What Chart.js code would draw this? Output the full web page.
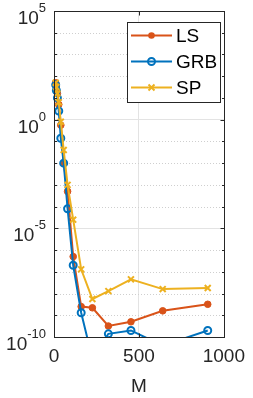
<!DOCTYPE html>
<html>
<head>
<meta charset="UTF-8">
<title>LS GRB SP</title>
<script src="https://cdn.jsdelivr.net/npm/chart.js"></script>
<style>
  html, body { margin: 0; padding: 0; background: #fff; }
  canvas { display: block; }
</style>
</head>
<body>
<canvas id="c" width="253" height="398"></canvas>
<script>
// values
const M   = [10, 14, 20, 28, 40, 57, 80, 113, 160, 226, 320, 453, 640, 905];
const LS  = [50, 32, 16, 5, 0.56, 1e-2, 5e-4, 5e-7, 2.5e-9, 2.2e-9, 3.2e-10, 5e-10, 1.6e-9, 3.2e-9];
const GRB = [40, 22, 10, 2.5, 0.14, 1e-2, 8e-5, 2e-7, 1.3e-9, 1e-11, 1.4e-10, 2e-10, 4e-11, 2e-10];
const SP  = [50, 32, 16, 6.3, 0.8, 0.04, 1e-3, 2.5e-5, 1.3e-7, 5.6e-9, 1.3e-8, 4.5e-8, 1.6e-8, 1.8e-8];
const names = ['LS', 'GRB', 'SP'];
const xTicks = [0, 500, 1000];
const yLabelExp = [5, 0, -5, -10];
const yDecades = [];
for (let e = -10; e <= 5; e++) yDecades.push(e);

const colors = ['#D95319', '#0072BD', '#EDB120'];
const axisColor = '#262626';
const FONT = 'Liberation Sans, Arial, Helvetica, sans-serif';

function pts(ys) { return M.map((m, i) => ({ x: m, y: ys[i] })); }

const styles = [
  { pointStyle: 'circle', pointRadius: 3.3, pointBackgroundColor: colors[0], pointBorderWidth: 1 },
  { pointStyle: 'circle', pointRadius: 3.5, pointBackgroundColor: 'rgba(0,0,0,0)', pointBorderWidth: 2 },
  { pointStyle: 'crossRot', pointRadius: 4.2, pointBackgroundColor: colors[2], pointBorderWidth: 2 }
];

const datasets = [LS, GRB, SP].map((ys, i) => Object.assign({
  label: names[i],
  data: pts(ys),
  borderColor: colors[i],
  pointBorderColor: colors[i],
  borderWidth: 2,
  tension: 0,
  order: 2 - i,
  clip: { left: 6, right: 6, top: 6, bottom: 0 }
}, styles[i]));

function drawMarker(ctx, i, x, y) {
  ctx.save();
  ctx.strokeStyle = colors[i];
  ctx.fillStyle = colors[i];
  ctx.lineWidth = 2;
  if (i === 0) {
    ctx.beginPath(); ctx.arc(x, y, 3.3, 0, Math.PI * 2); ctx.fill();
  } else if (i === 1) {
    ctx.beginPath(); ctx.arc(x, y, 3.5, 0, Math.PI * 2); ctx.stroke();
  } else {
    const r = 3;
    ctx.beginPath();
    ctx.moveTo(x - r, y - r); ctx.lineTo(x + r, y + r);
    ctx.moveTo(x + r, y - r); ctx.lineTo(x - r, y + r);
    ctx.stroke();
  }
  ctx.restore();
}

const matlabAxes = {
  id: 'matlabAxes',
  beforeDatasetsDraw(chart) {
    const { ctx, chartArea: a, scales: { y } } = chart;
    ctx.save();
    ctx.strokeStyle = '#cfcfcf';
    ctx.lineWidth = 1;
    ctx.setLineDash([1, 2]);
    yDecades.forEach(e => {
      if (e % 5 === 0) return;
      const py = Math.round(y.getPixelForValue(Math.pow(10, e))) + 0.5;
      ctx.beginPath(); ctx.moveTo(a.left, py); ctx.lineTo(a.right, py); ctx.stroke();
    });
    ctx.restore();
  },
  afterDatasetsDraw(chart) {
    const { ctx, chartArea: a, scales: { x, y } } = chart;
    ctx.save();
    // box
    ctx.strokeStyle = axisColor;
    ctx.lineWidth = 1;
    const L = Math.round(a.left) + 0.5, R = Math.round(a.right) + 0.5;
    const T = Math.round(a.top) + 0.5, B = Math.round(a.bottom) + 0.5;
    ctx.strokeRect(L, T, R - L, B - T);
    // ticks inside the box
    ctx.beginPath();
    yDecades.forEach(e => {
      const py = Math.round(y.getPixelForValue(Math.pow(10, e))) + 0.5;
      const len = e % 5 === 0 ? 4 : 2.5;
      ctx.moveTo(L, py); ctx.lineTo(L + len, py);
      ctx.moveTo(R, py); ctx.lineTo(R - len, py);
    });
    xTicks.forEach(v => {
      const px = Math.round(x.getPixelForValue(v)) + 0.5;
      ctx.moveTo(px, B); ctx.lineTo(px, B - 4);
      ctx.moveTo(px, T); ctx.lineTo(px, T + 4);
    });
    ctx.stroke();

    // y tick labels 10^n
    ctx.fillStyle = axisColor;
    ctx.textAlign = 'right';
    ctx.textBaseline = 'alphabetic';
    yLabelExp.forEach(e => {
      const py = y.getPixelForValue(Math.pow(10, e));
      const exp = e < 0 ? '-' + (-e) : String(e);
      ctx.font = '13px ' + FONT;
      const w = ctx.measureText(exp).width;
      const right = a.left - 8;
      ctx.fillText(exp, right, py + 1);
      ctx.font = '19px ' + FONT;
      ctx.fillText('10', right - w, py + 13);
    });

    // legend
    const bx = 127.5, by = 22.5, bw = 93, bh = 80;
    ctx.fillStyle = '#fff';
    ctx.fillRect(bx, by, bw, bh);
    ctx.strokeStyle = axisColor;
    ctx.strokeRect(bx, by, bw, bh);
    names.forEach((n, i) => {
      const ly = 35.5 + i * 26;
      ctx.strokeStyle = colors[i];
      ctx.lineWidth = 2;
      ctx.beginPath(); ctx.moveTo(131, ly); ctx.lineTo(172, ly); ctx.stroke();
      drawMarker(ctx, i, 151.5, ly);
      ctx.fillStyle = '#000';
      ctx.font = '19px ' + FONT;
      ctx.textAlign = 'left';
      ctx.textBaseline = 'middle';
      ctx.fillText(n, 176, ly + 1);
    });
    ctx.restore();
  }
};

new Chart(document.getElementById('c'), {
  type: 'line',
  data: { datasets: datasets },
  options: {
    responsive: false,
    animation: false,
    events: [],
    layout: { padding: { top: 11, right: 24, left: 0, bottom: 0 } },
    plugins: { legend: { display: false }, tooltip: { enabled: false } },
    scales: {
      x: {
        type: 'linear', min: 0, max: 1000,
        afterBuildTicks: s => { s.ticks = xTicks.map(v => ({ value: v })); },
        afterFit: s => { s.height = 61; },
        ticks: {
          font: { family: FONT, size: 19 }, color: axisColor, padding: 8, maxRotation: 0, autoSkip: false,
          callback: v => String(v)
        },
        grid: { color: c => (c.tick && c.tick.value === 500 ? '#e3e3e3' : 'rgba(0,0,0,0)'), drawTicks: false },
        border: { display: false },
        title: { display: true, text: 'M', font: { family: FONT, size: 19 }, color: axisColor, padding: { top: 0, bottom: 0 } }
      },
      y: {
        type: 'logarithmic', min: 1e-10, max: 1e5,
        afterBuildTicks: s => { s.ticks = yDecades.map(e => ({ value: Math.pow(10, e) })); },
        afterFit: s => { s.width = 54; },
        ticks: { callback: () => '', autoSkip: false },
        grid: {
          color: c => (c.tick && Math.abs(Math.round(Math.log10(c.tick.value))) % 5 === 0 ? '#e3e3e3' : 'rgba(0,0,0,0)'),
          drawTicks: false
        },
        border: { display: false }
      }
    }
  },
  plugins: [matlabAxes]
});
</script>
</body>
</html>
